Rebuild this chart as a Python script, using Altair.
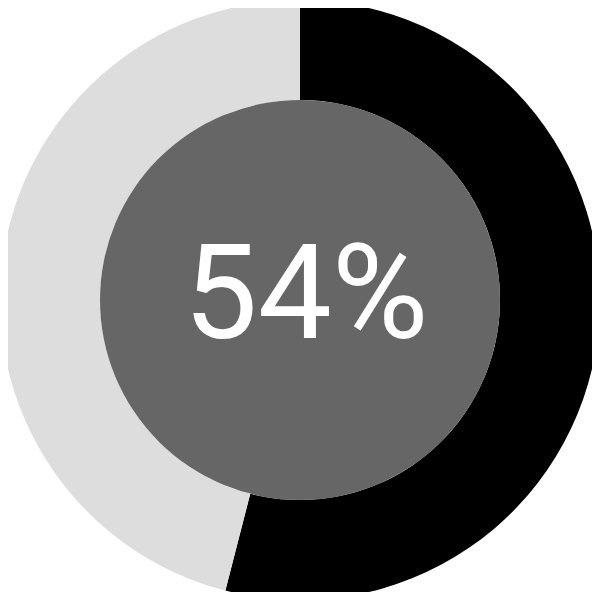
import altair as alt
import pandas as pd

labels = ["done", "rest"]
values = [54, 46]
colors = ["#000000", "#dddddd"]
center_label = "54%"

df = pd.DataFrame({"label": labels, "value": values, "order": [0, 1]})

cx, cy = 292, 292

ring = alt.Chart(df).mark_arc(outerRadius=300, innerRadius=200).encode(
    theta=alt.Theta("value:Q", stack=True),
    order=alt.Order("order:Q"),
    color=alt.Color("label:N", scale=alt.Scale(domain=labels, range=colors), legend=None),
    x=alt.value(cx),
    y=alt.value(cy),
)

inner = alt.Chart(pd.DataFrame({"v": [1]})).mark_arc(outerRadius=200, color="#666666").encode(
    theta=alt.Theta("v:Q"),
    x=alt.value(cx),
    y=alt.value(cy),
)

text = alt.Chart(pd.DataFrame({"t": [center_label]})).mark_text(
    font="Roboto", fontSize=132, color="#ffffff", align="center", baseline="alphabetic"
).encode(
    text="t:N",
    x=alt.value(298),
    y=alt.value(330),
)

chart = alt.layer(ring, inner, text).resolve_scale(theta="independent").properties(
    width=584, height=584, padding=0, autosize=alt.AutoSizeParams(type="none"),
    background="white",
).configure_view(stroke=None)

chart.save("out.html", embed_options={"renderer": "svg", "actions": False})
